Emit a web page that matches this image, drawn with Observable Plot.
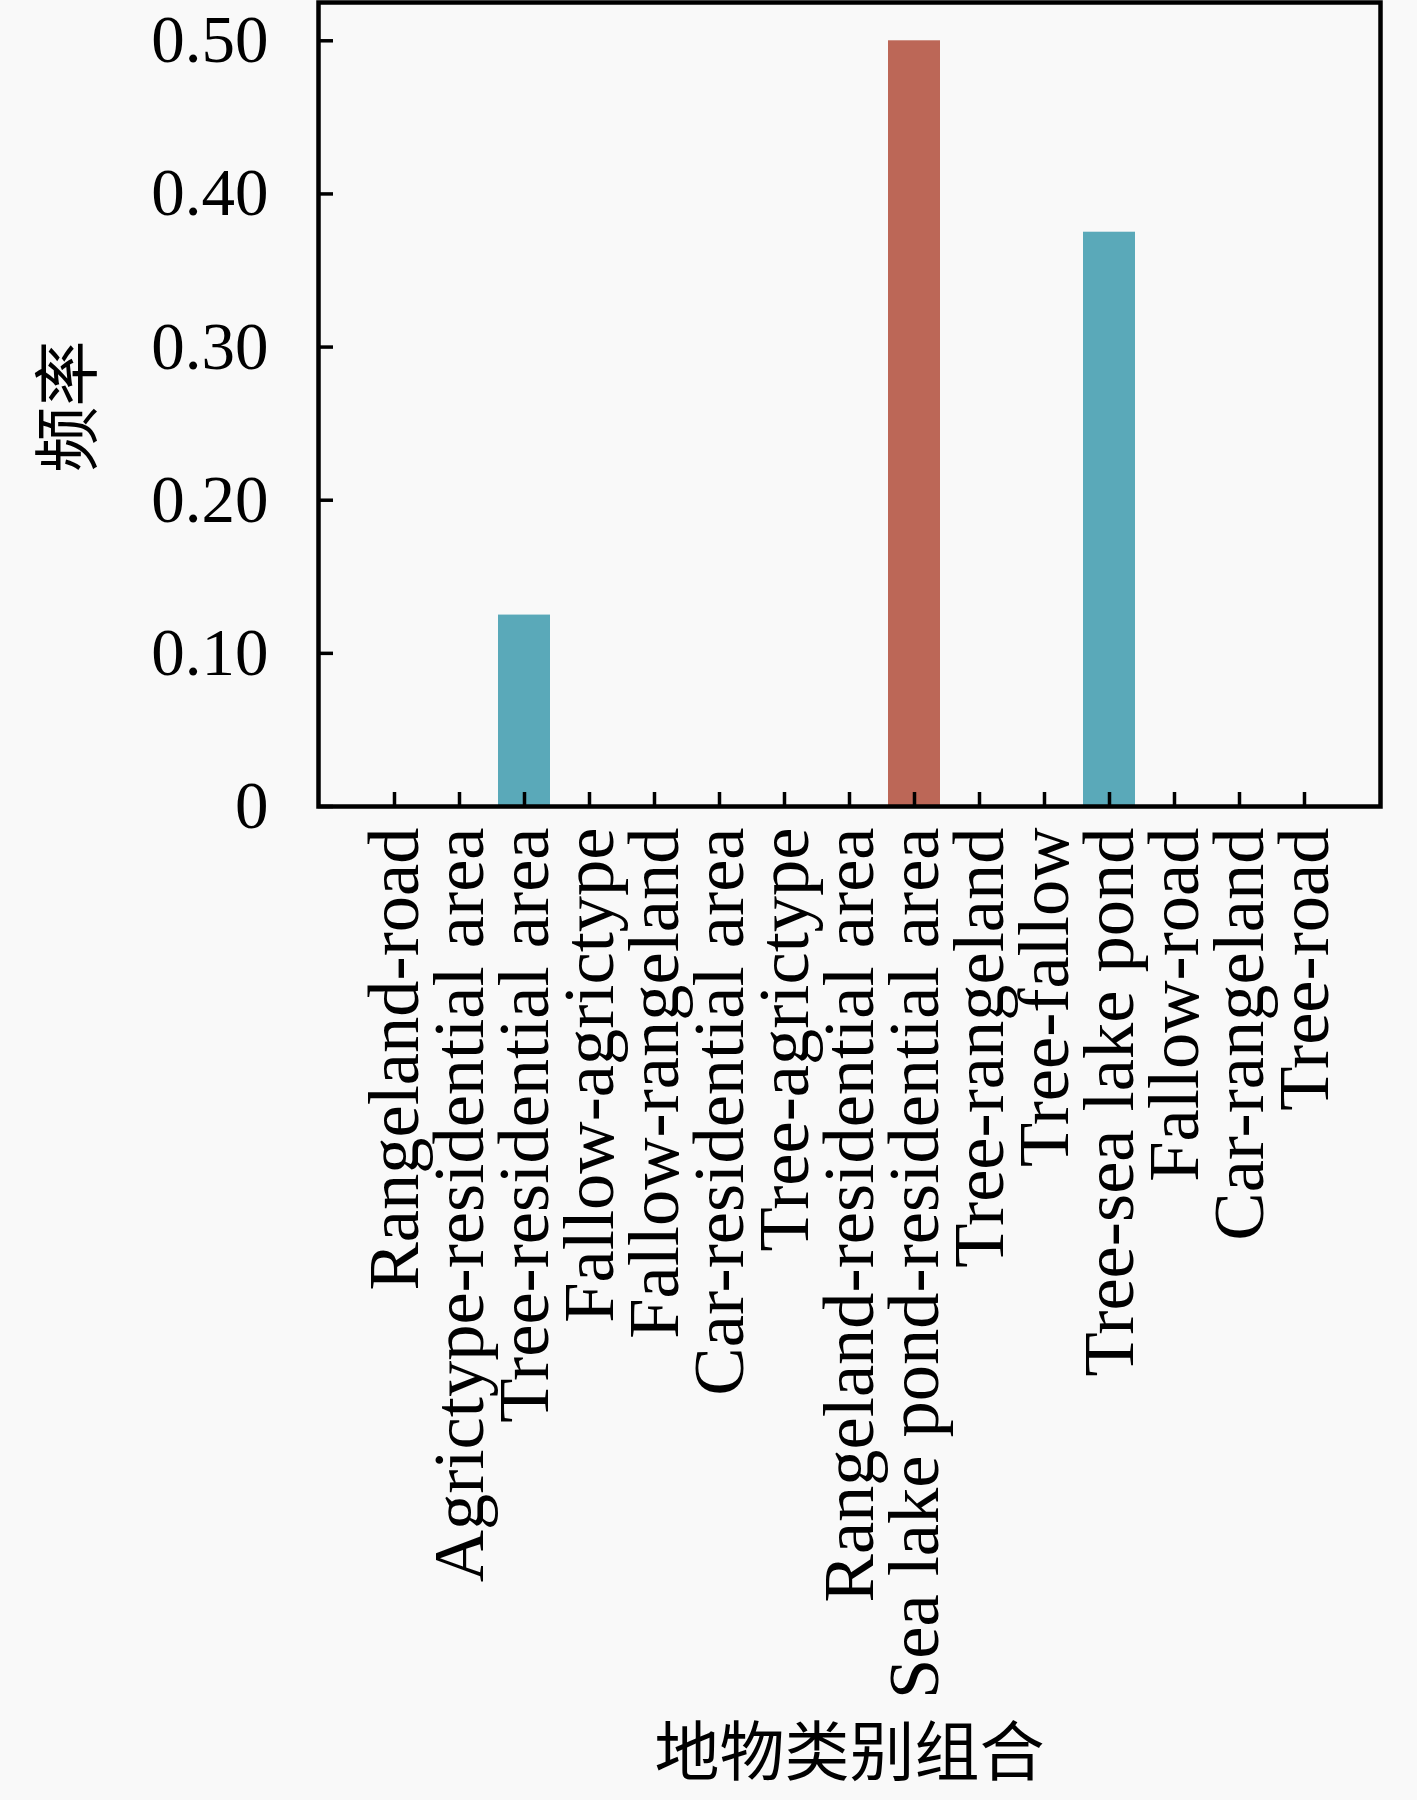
<!DOCTYPE html>
<html>
<head>
<meta charset="utf-8">
<script src="https://cdn.jsdelivr.net/npm/d3@7"></script>
<script src="https://cdn.jsdelivr.net/npm/@observablehq/plot@0.6"></script>
<style>
  html, body { margin: 0; padding: 0; background: #f9f9f9; }
  #chart svg { display: block; }
</style>
</head>
<body>
<div id="chart"></div>
<script>
const categories = [
  "Rangeland-road",
  "Agrictype-residential area",
  "Tree-residential area",
  "Fallow-agrictype",
  "Fallow-rangeland",
  "Car-residential area",
  "Tree-agrictype",
  "Rangeland-residential area",
  "Sea lake pond-residential area",
  "Tree-rangeland",
  "Tree-fallow",
  "Tree-sea lake pond",
  "Fallow-road",
  "Car-rangeland",
  "Tree-road"
];
const frequencies = [0, 0, 0.125, 0, 0, 0, 0, 0, 0.5, 0, 0, 0.375, 0, 0, 0];
const barColors = ["#5aa9b9","#5aa9b9","#5aa9b9","#5aa9b9","#5aa9b9","#5aa9b9","#5aa9b9","#5aa9b9","#bc6757","#5aa9b9","#5aa9b9","#5aa9b9","#5aa9b9","#5aa9b9","#5aa9b9"];
const yTicks = [0, 0.1, 0.2, 0.3, 0.4, 0.5];
const yTickLabels = ["0", "0.10", "0.20", "0.30", "0.40", "0.50"];
const yLabel = "频率";
const xLabel = "地物类别组合";

const data = categories.map((c, i) => ({category: c, value: frequencies[i], color: barColors[i]}));

const serif = "'Liberation Serif', 'DejaVu Serif', serif";
const cjk = "'Noto Sans CJK SC', sans-serif";

const chart = Plot.plot({
  width: 1417,
  height: 1800,
  marginLeft: 318,
  marginRight: 37,
  marginTop: 2,
  marginBottom: 994,
  style: {background: "#f9f9f9", fontFamily: serif, color: "black"},
  x: {domain: categories, padding: 0.2, insetLeft: 35.5, insetRight: 35.5, axis: null},
  y: {domain: [0, 0.525], axis: null},
  marks: [
    Plot.barY(data, {x: "category", y: "value", fill: d => d.color}),
    Plot.axisY({ticks: yTicks, tickSize: 0, tickPadding: 50, fontSize: 67,
      tickFormat: (d, i) => yTickLabels[yTicks.indexOf(d)], fontFamily: serif, fill: "black", label: null}),
    Plot.axisY({ticks: yTicks, tickSize: -15, text: null, strokeWidth: 3.5, stroke: "black", label: null}),
    Plot.axisX({tickSize: -14, text: null, strokeWidth: 3.5, stroke: "black", label: null}),
    Plot.text(categories, {x: d => d, frameAnchor: "bottom", rotate: -90, textAnchor: "end",
      lineAnchor: "middle", dy: 21, fontSize: 72.5, fontFamily: serif, fill: "black"}),
    Plot.frame({stroke: "black", strokeWidth: 4.5}),
    Plot.text([yLabel], {frameAnchor: "left", dx: -249, dy: 68, rotate: -90, fontSize: 66,
      fontFamily: cjk, fill: "black", lineAnchor: "middle"}),
    Plot.text([xLabel], {frameAnchor: "bottom", dy: 948, fontSize: 65,
      fontFamily: cjk, fill: "black", lineAnchor: "middle"})
  ]
});
document.getElementById("chart").appendChild(chart);
</script>
</body>
</html>
